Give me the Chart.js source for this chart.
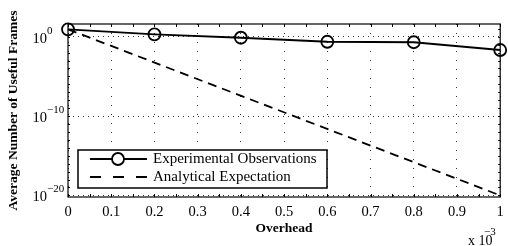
<!DOCTYPE html>
<html>
<head>
<meta charset="utf-8">
<script src="https://cdn.jsdelivr.net/npm/chart.js@4/dist/chart.umd.min.js"></script>
<style>
  html, body { margin: 0; padding: 0; background: #fff; }
  #wrap { width: 508px; height: 246px; }
</style>
</head>
<body>
<div id="wrap"><canvas id="chart" width="508" height="246"></canvas></div>
<script>
// --- data (overhead in units of 1e-3) ---
const overheadX = [0, 0.2, 0.4, 0.6, 0.8, 1.0];
const experimental = [8.5, 2.0, 0.74, 0.23, 0.20, 0.021];
const analyticalX = [0, 1.0];
const analytical = [8.5, 1e-20];
const xTicks = [0, 0.1, 0.2, 0.3, 0.4, 0.5, 0.6, 0.7, 0.8, 0.9, 1];
const yTickExps = [0, -10, -20];
const legendLabels = ['Experimental Observations', 'Analytical Expectation'];
const xTitle = 'Overhead';
const yTitle = 'Average Number of Useful Frames';

const SERIF = '"Liberation Serif", "DejaVu Serif", serif';

// draws frame, ticks, labels, titles and legend MATLAB style
const decorations = {
    id: 'decorations',
    afterDraw(chart) {
        const ctx = chart.ctx;
        const a = chart.chartArea;
        const xs = chart.scales.x, ys = chart.scales.y;
        ctx.save();
        ctx.strokeStyle = '#000';
        ctx.fillStyle = '#000';
        ctx.lineWidth = 1.2;
        ctx.strokeRect(a.left, a.top, a.right - a.left, a.bottom - a.top);

        // x ticks every 0.05, top and bottom
        ctx.lineWidth = 1;
        ctx.beginPath();
        for (let i = 0; i <= 20; i++) {
            const px = Math.round(xs.getPixelForValue(i * 0.05)) + 0.5;
            ctx.moveTo(px, a.bottom); ctx.lineTo(px, a.bottom - 3);
            ctx.moveTo(px, a.top); ctx.lineTo(px, a.top + 3);
        }
        // y ticks each decade, left and right
        for (let e = -20; e <= 1; e++) {
            const py = Math.round(ys.getPixelForValue(Math.pow(10, e))) + 0.5;
            ctx.moveTo(a.left, py); ctx.lineTo(a.left + 2, py);
            ctx.moveTo(a.right, py); ctx.lineTo(a.right - 2, py);
        }
        ctx.stroke();

        // x tick labels
        ctx.font = '14.5px ' + SERIF;
        ctx.textAlign = 'center';
        ctx.textBaseline = 'middle';
        xTicks.forEach(v => {
            ctx.fillText(String(v), xs.getPixelForValue(v), 212);
        });

        // y tick labels 10^e
        yTickExps.forEach(e => {
            const py = ys.getPixelForValue(Math.pow(10, e));
            ctx.font = '14.5px ' + SERIF;
            ctx.textAlign = 'right';
            ctx.textBaseline = 'middle';
            ctx.fillText('10', 47, py + 2);
            ctx.font = '11px ' + SERIF;
            ctx.textAlign = 'left';
            ctx.fillText(e === 0 ? '0' : '\u2212' + Math.abs(e), 47, py - 6);
        });

        // x 10^-3
        ctx.font = '14px ' + SERIF;
        ctx.textAlign = 'left';
        ctx.textBaseline = 'middle';
        ctx.fillText('x 10', 468, 241);
        ctx.font = '11px ' + SERIF;
        ctx.fillText('\u22123', 484, 232);

        // axis titles
        ctx.font = 'bold 13.5px ' + SERIF;
        ctx.textAlign = 'center';
        ctx.fillText(xTitle, (a.left + a.right) / 2, 229);
        ctx.save();
        ctx.translate(14, (a.top + a.bottom) / 2);
        ctx.rotate(-Math.PI / 2);
        ctx.fillText(yTitle, 0, 0);
        ctx.restore();

        // legend
        const lx = 78, ly = 150, lw = 249, lh = 38;
        ctx.fillStyle = '#fff';
        ctx.fillRect(lx, ly, lw, lh);
        ctx.fillStyle = '#000';
        ctx.lineWidth = 1.5;
        ctx.strokeRect(lx, ly, lw, lh);
        ctx.lineWidth = 1.8;
        ctx.beginPath();
        ctx.moveTo(90, 159); ctx.lineTo(147, 159);
        ctx.stroke();
        ctx.beginPath();
        ctx.arc(118, 159, 6, 0, Math.PI * 2);
        ctx.fillStyle = '#fff'; ctx.fill(); ctx.stroke();
        ctx.setLineDash([11, 12]);
        ctx.beginPath();
        ctx.moveTo(90, 177); ctx.lineTo(148, 177);
        ctx.stroke();
        ctx.setLineDash([]);
        ctx.fillStyle = '#000';
        ctx.font = '15px ' + SERIF;
        ctx.textAlign = 'left';
        ctx.fillText(legendLabels[0], 153, 159);
        ctx.fillText(legendLabels[1], 153, 177);
        ctx.restore();
    }
};

new Chart(document.getElementById('chart'), {
    type: 'line',
    data: {
        datasets: [
            {
                label: legendLabels[0],
                data: overheadX.map((x, i) => ({ x: x, y: experimental[i] })),
                borderColor: '#000', borderWidth: 1.8,
                pointRadius: 6, pointBorderWidth: 1.8,
                pointBorderColor: '#000', pointBackgroundColor: 'rgba(0,0,0,0)',
                tension: 0, clip: false
            },
            {
                label: legendLabels[1],
                data: analyticalX.map((x, i) => ({ x: x, y: analytical[i] })),
                borderColor: '#000', borderWidth: 1.8, borderDash: [9, 6],
                pointRadius: 0, tension: 0
            }
        ]
    },
    options: {
        responsive: false,
        animation: false,
        layout: { padding: { left: 68, right: 3, top: 24, bottom: 49 } },
        plugins: { legend: { display: false }, tooltip: { enabled: false } },
        scales: {
            x: {
                type: 'linear', min: 0, max: 1,
                ticks: { display: false, stepSize: 0.1 },
                grid: { color: '#333', lineWidth: 1, drawTicks: false },
                border: { display: false, dash: [1, 8] }
            },
            y: {
                type: 'logarithmic', min: Math.pow(10, -20.2), max: Math.pow(10, 1.6),
                afterBuildTicks: s => { s.ticks = yTickExps.map(e => ({ value: Math.pow(10, e) })); },
                ticks: { display: false },
                grid: { color: '#333', lineWidth: 1, drawTicks: false },
                border: { display: false, dash: [1, 4] }
            }
        }
    },
    plugins: [decorations]
});
</script>
</body>
</html>
